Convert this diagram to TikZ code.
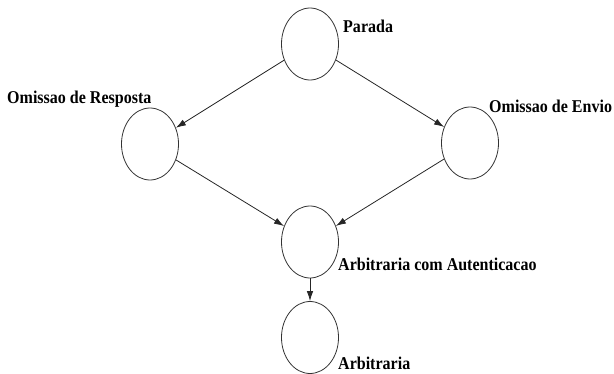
\documentclass[tikz,border=0pt]{standalone}
\usepackage{fontspec}
\setmainfont{Liberation Serif}
\usetikzlibrary{shapes.geometric,arrows.meta}
\newcommand{\narrowtxt}[1]{\scalebox{0.89}[1]{#1}}
\begin{document}
\begin{tikzpicture}[x=1pt,y=-1pt,
  state/.style={ellipse,draw=black!80,line width=0.8pt,minimum width=57pt,minimum height=72pt,inner sep=0pt},
  lbl/.style={anchor=base west,inner sep=0pt,font=\fontsize{18}{21}\selectfont\bfseries},
  arr/.style={draw=black!85,line width=0.8pt,-{Latex[length=10pt,width=6.5pt]}}]
\useasboundingbox (0,0) rectangle (614,374);
\node[state] (p) at (310,44) {};
\node[state] (r) at (150,144) {};
\node[state] (e) at (470,143) {};
\node[state] (a) at (310,242) {};
\node[state] (b) at (310,337.5) {};
\node[lbl] (lp) at (343,33) {\narrowtxt{Parada}};
\node[lbl] (lr) at (7,104) {\narrowtxt{Omissao de Resposta}};
\node[lbl] (le) at (489,113) {\narrowtxt{Omissao de Envio}};
\node[lbl] (la) at (338,271) {\narrowtxt{Arbitraria com Autenticacao}};
\node[lbl] (lb) at (338,370) {\narrowtxt{Arbitraria}};
\draw[arr] (p) -- (r);
\draw[arr] (p) -- (e);
\draw[arr] (r) -- (a);
\draw[arr] (e) -- (a);
\draw[arr] (a) -- (b);
\end{tikzpicture}
\end{document}
